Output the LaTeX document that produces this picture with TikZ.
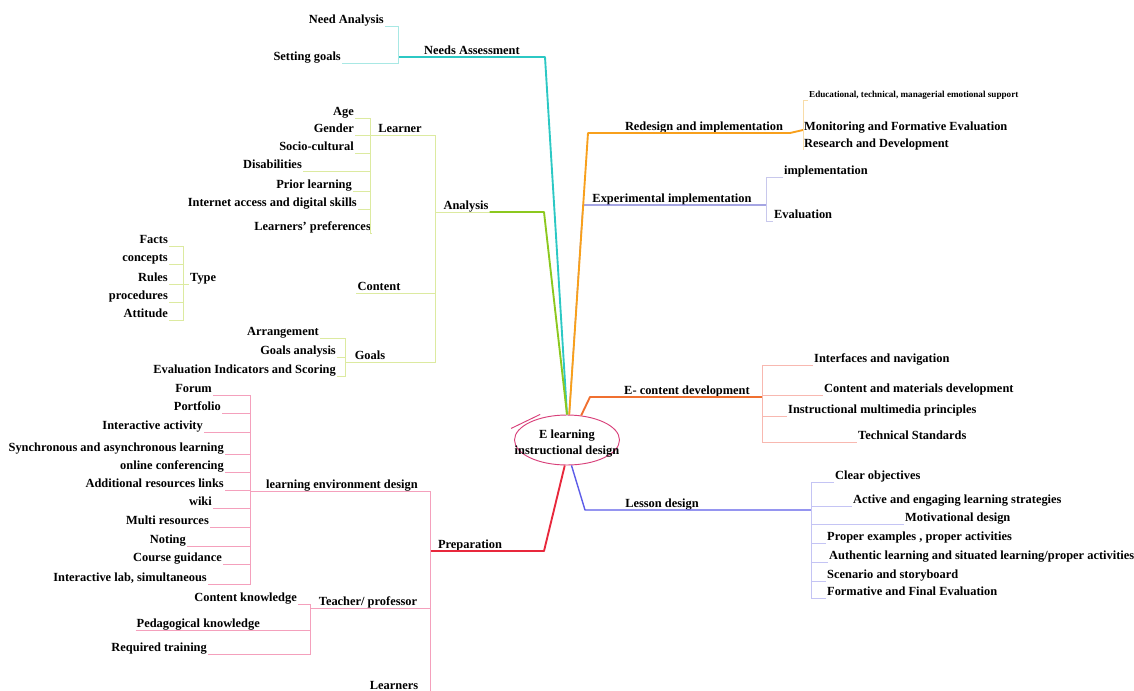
\documentclass[tikz,border=0pt]{standalone}
\usepackage{fontspec}
\setmainfont{Liberation Serif}
\usetikzlibrary{shapes.geometric}

\definecolor{rootc}{HTML}{D8407A}
\definecolor{tealm}{HTML}{2CC8C4}
\definecolor{teall}{HTML}{A8E8E4}
\definecolor{grnm}{HTML}{8CC81E}
\definecolor{grnl}{HTML}{DCEAA0}
\definecolor{orgm}{HTML}{F8A01C}
\definecolor{orgl}{HTML}{F8DCA8}
\definecolor{purm}{HTML}{7474D4}
\definecolor{purl}{HTML}{C8C8EC}
\definecolor{ecm}{HTML}{F07030}
\definecolor{ecl}{HTML}{F8B8B0}
\definecolor{lsm}{HTML}{5C5CE8}
\definecolor{lsl}{HTML}{C4C4F4}
\definecolor{prm}{HTML}{E8283C}
\definecolor{prl}{HTML}{F4A0BC}

\tikzset{
  lbl/.style={font=\bfseries\fontsize{10.6}{14}\selectfont, inner sep=0.8pt, text height=7pt, text depth=1.5pt},
  roottext/.style={font=\bfseries\fontsize{10.6}{14}\selectfont, inner sep=0pt, align=center},
  tinylbl/.style={font=\bfseries\fontsize{7.8}{8}\selectfont, inner sep=0.8pt, text height=5pt, text depth=1pt},
  mainln/.style={line width=1.6pt, line join=round},
  subln/.style={line width=0.6pt}
}

\begin{document}
\begin{tikzpicture}[x=0.03cm,y=-0.03cm]
\useasboundingbox (0,0) rectangle (1134,690);
\clip (0,0) rectangle (1134,690);

\node[draw=rootc, line width=0.8pt, ellipse, minimum width=3.15cm, minimum height=1.5cm, inner sep=0pt] (root) at (567,440) {};
\node[roottext] (roottxt) at ([yshift=-3]root.center) {E learning\\instructional design};
\draw[rootc, line width=0.8pt] ([shift={(-22,8)}]root.150) -- ([shift={(7,-6)}]root.150);

% Needs Assessment
\node[lbl, anchor=south] (needs) at (472,57) {Needs Assessment};
\node[lbl, anchor=south east] (needan) at (385,26) {Need Analysis};
\node[lbl, anchor=south east] (setgoal) at (342,63) {Setting goals};
\coordinate (nabus) at (398,57);
\coordinate (naknee) at (545,57);
\draw[tealm, mainln] (root.north) -- (naknee) -- (nabus);
\draw[teall, subln] (needan.south east) -- (needan.south east -| nabus) -- (setgoal.south east -| nabus) -- (setgoal.south east);

% Analysis
\node[lbl, anchor=south] (anl) at (466,212) {Analysis};
\coordinate (anbus) at (435,212);
\coordinate (anknee) at (544,212);
\draw[grnl, subln] (anbus) -- (anl.south east);
\draw[grnm, mainln] (root.north) -- (anknee) -- (anl.south east);

\node[lbl, anchor=south] (lrn) at (400,135) {Learner};
\node[lbl, anchor=south] (cnt) at (379,293) {Content};
\node[lbl, anchor=south] (gls) at (370,362) {Goals};
\coordinate (lrbus) at (370,135);
\coordinate (gbus) at (345,362);
\draw[grnl, subln] (lrbus) -- (lrbus -| anbus) -- (gls.south -| anbus) -- (gbus);
\draw[grnl, subln] (cnt.south west) -- (cnt.south -| anbus);

\node[lbl, anchor=south east] (age) at (355,118) {Age};
\node[lbl, anchor=south east] (gen) at (355,135) {Gender};
\node[lbl, anchor=south east] (soc) at (355,153) {Socio-cultural};
\node[lbl, anchor=south east] (dis) at (303,171) {Disabilities};
\node[lbl, anchor=south east] (pri) at (353,191) {Prior learning};
\node[lbl, anchor=south east] (net) at (358,209) {Internet access and digital skills};
\node[lbl, anchor=south east] (lpref) at (372,233) {Learners' preferences};
\draw[grnl, subln] (age.south east) -- (age.south east -| lrbus) -- (lpref.south east -| lrbus) -- (lpref.south east)
  (gen.south east) -- (gen.south east -| lrbus)
  (soc.south east) -- (soc.south east -| lrbus)
  (dis.south east) -- (dis.south east -| lrbus)
  (pri.south east) -- (pri.south east -| lrbus)
  (net.south east) -- (net.south east -| lrbus);

\node[lbl, anchor=south west] (typ) at (189,284) {Type};
\node[lbl, anchor=south east] (fct) at (169,246) {Facts};
\node[lbl, anchor=south east] (cpt) at (169,264) {concepts};
\node[lbl, anchor=south east] (rul) at (169,284) {Rules};
\node[lbl, anchor=south east] (pro) at (169,302) {procedures};
\node[lbl, anchor=south east] (att) at (169,320) {Attitude};
\coordinate (tybus) at (183,284);
\draw[grnl, subln] (fct.south east) -- (fct.south east -| tybus) -- (att.south east -| tybus) -- (att.south east)
  (cpt.south east) -- (cpt.south east -| tybus)
  (rul.south east) -- (rul.south east -| tybus)
  (pro.south east) -- (pro.south east -| tybus)
  (tybus) -- (typ.south west);

\node[lbl, anchor=south east] (arr) at (320,338) {Arrangement};
\node[lbl, anchor=south east] (gan) at (337,357) {Goals analysis};
\node[lbl, anchor=south east] (evi) at (337,376) {Evaluation Indicators and Scoring};
\draw[grnl, subln] (arr.south east) -- (arr.south east -| gbus) -- (evi.south east -| gbus) -- (evi.south east)
  (gan.south east) -- (gan.south east -| gbus);

% Preparation
\node[lbl, anchor=south] (prep) at (470,551) {Preparation};
\coordinate (prknee) at (544,551);
\coordinate (pbus) at (430,551);
\draw[prm, mainln] (root.265) -- (prknee) -- (pbus);

\node[lbl, anchor=south] (led) at (342,491) {learning environment design};
\node[lbl, anchor=south] (tch) at (368,608) {Teacher/ professor};
\node[lbl, anchor=south] (lrs) at (394,692) {Learners};
\coordinate (lebus) at (250,491);
\coordinate (tbus) at (310,608);
\draw[prl, subln] (lebus) -- (led.south -| pbus) -- (lrs.south -| pbus) -- (lrs.south west);
\draw[prl, subln] (tbus) -- (tch.south -| pbus);

\node[lbl, anchor=south east] (forum) at (213,395) {Forum};
\node[lbl, anchor=south east] (portf) at (222,413) {Portfolio};
\node[lbl, anchor=south east] (iact) at (204,432) {Interactive activity};
\node[lbl, anchor=south east] (sync) at (225,454) {Synchronous and asynchronous learning};
\node[lbl, anchor=south east] (onl) at (225,472) {online conferencing};
\node[lbl, anchor=south east] (addr) at (225,490) {Additional resources links};
\node[lbl, anchor=south east] (wiki) at (213,508) {wiki};
\node[lbl, anchor=south east] (multi) at (210,527) {Multi resources};
\node[lbl, anchor=south east] (note) at (187,546) {Noting};
\node[lbl, anchor=south east] (cguide) at (223,564) {Course guidance};
\node[lbl, anchor=south east] (ilab) at (208,584) {Interactive lab, simultaneous};
\draw[prl, subln] (forum.south east) -- (forum.south east -| lebus) -- (ilab.south east -| lebus) -- (ilab.south east)
  (portf.south east) -- (portf.south east -| lebus)
  (iact.south east) -- (iact.south east -| lebus)
  (sync.south east) -- (sync.south east -| lebus)
  (onl.south east) -- (onl.south east -| lebus)
  (addr.south east) -- (addr.south east -| lebus)
  (wiki.south east) -- (wiki.south east -| lebus)
  (multi.south east) -- (multi.south east -| lebus)
  (note.south east) -- (note.south east -| lebus)
  (cguide.south east) -- (cguide.south east -| lebus);

\node[lbl, anchor=south east] (ckn) at (298,604) {Content knowledge};
\node[lbl, anchor=south east] (pkn) at (261,630) {Pedagogical knowledge};
\node[lbl, anchor=south east] (rtr) at (208,654) {Required training};
\draw[prl, subln] (ckn.south east) -- (ckn.south east -| tbus) -- (rtr.south east -| tbus) -- (rtr.south east)
  (pkn.south west) -- (pkn.south west -| tbus);

% Experimental implementation
\node[lbl, anchor=south] (expi) at (672,205) {Experimental implementation};
\coordinate (exknee) at (583,205);
\coordinate (exbus) at (766,205);
\draw[purm, line width=1pt] (root.85) -- (exknee) -- (exbus);
\node[lbl, anchor=south west] (impl) at (783,177) {implementation};
\node[lbl, anchor=south west] (eval) at (773,221) {Evaluation};
\draw[purl, subln] (impl.south west) -- (impl.south west -| exbus) -- (eval.south west -| exbus) -- (eval.south west);

% Redesign and implementation
\node[lbl, anchor=south] (redes) at (704,133) {Redesign and implementation};
\coordinate (rdknee) at (588,133);
\coordinate (rdjoin) at (790,133);
\coordinate (rdbus) at (803,130);
\draw[orgm, mainln] (root.85) -- (rdknee) -- (rdjoin) -- (rdbus);
\node[tinylbl, anchor=south west] (edu) at (808,100) {Educational, technical, managerial emotional support};
\node[lbl, anchor=south west] (mon) at (803,133) {Monitoring and Formative Evaluation};
\node[lbl, anchor=south west] (rnd) at (803,150) {Research and Development};
\draw[orgl, subln] (edu.south west) -- (edu.south west -| rdbus) -- (rnd.south west -| rdbus);

% E- content development
\node[lbl, anchor=south] (econ) at (687,397) {E- content development};
\coordinate (ecknee) at (590,397);
\coordinate (ecbus) at (762,397);
\draw[ecm, mainln] (root.60) -- (ecknee) -- (ecbus);
\node[lbl, anchor=south west] (intf) at (813,365) {Interfaces and navigation};
\node[lbl, anchor=south west] (cmat) at (823,395) {Content and materials development};
\node[lbl, anchor=south west] (imm) at (787,416) {Instructional multimedia principles};
\node[lbl, anchor=south west] (tstd) at (857,442) {Technical Standards};
\draw[ecl, subln] (intf.south west) -- (intf.south west -| ecbus) -- (tstd.south west -| ecbus) -- (tstd.south west)
  (cmat.south west) -- (cmat.south west -| ecbus)
  (imm.south west) -- (imm.south west -| ecbus);

% Lesson design
\node[lbl, anchor=south] (lesd) at (662,510) {Lesson design};
\coordinate (lsknee) at (585,510);
\coordinate (lsbus) at (811,510);
\draw[lsm, line width=1.2pt, line join=round] (root.280) -- (lsknee) -- (lsbus);
\node[lbl, anchor=south west] (clr) at (834,482) {Clear objectives};
\node[lbl, anchor=south west] (act) at (852,506) {Active and engaging learning strategies};
\node[lbl, anchor=south west] (mot) at (904,524) {Motivational design};
\node[lbl, anchor=south west] (prex) at (826,543) {Proper examples , proper activities};
\node[lbl, anchor=south west] (auth) at (828,562) {Authentic learning and situated learning/proper activities};
\node[lbl, anchor=south west] (scen) at (826,581) {Scenario and storyboard};
\node[lbl, anchor=south west] (form) at (826,598) {Formative and Final Evaluation};
\draw[lsl, subln] (clr.south west) -- (clr.south west -| lsbus) -- (form.south west -| lsbus) -- (form.south west)
  (act.south west) -- (act.south west -| lsbus)
  (mot.south west) -- (mot.south west -| lsbus)
  (prex.south west) -- (prex.south west -| lsbus)
  (auth.south west) -- (auth.south west -| lsbus)
  (scen.south west) -- (scen.south west -| lsbus);
\end{tikzpicture}
\end{document}
